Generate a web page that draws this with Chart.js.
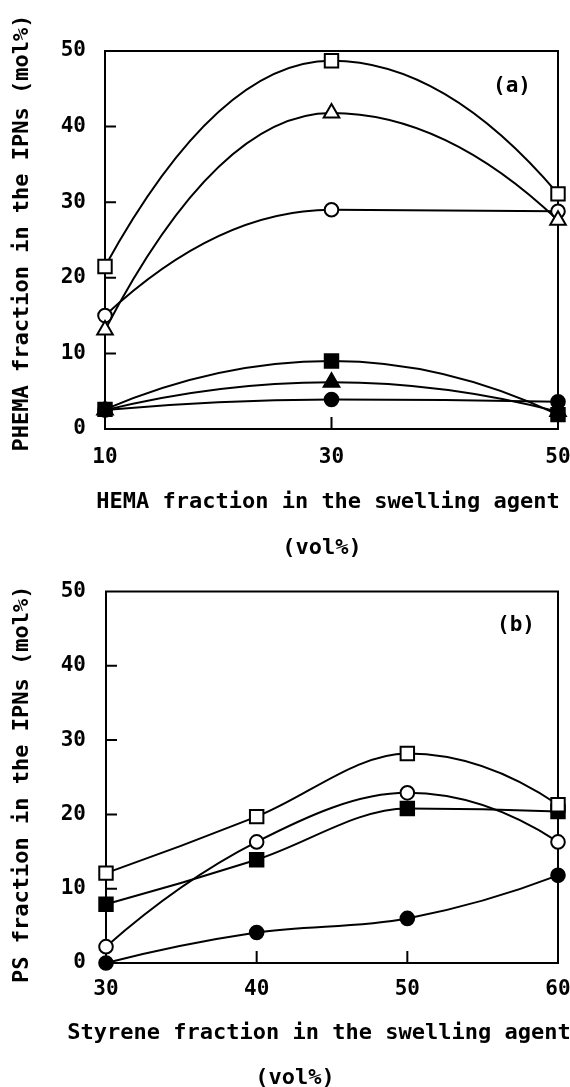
<!DOCTYPE html>
<html>
<head>
<meta charset="utf-8">
<script src="https://cdn.jsdelivr.net/npm/chart.js@4"></script>
<style>
  html, body { margin: 0; padding: 0; background: #fff; overflow: hidden; }
  canvas { display: block; position: absolute; left: 0; }
  #chartA { top: 0; }
  #chartB { top: 580px; }
</style>
</head>
<body>
<canvas id="chartA" width="570" height="580"></canvas>
<canvas id="chartB" width="570" height="507"></canvas>
<script>
// panel (a): PHEMA in the IPNs vs HEMA in the swelling agent
var hemaFrac = [10, 30, 50];
var aOpenSquare = [21.5, 48.7, 31.1];
var aOpenTriangle = [13.1, 41.8, 27.6];
var aOpenCircle = [15.0, 29.0, 28.8];
var aFilledSquare = [2.6, 9.0, 1.9];
var aFilledTriangle = [2.5, 6.2, 2.3];
var aFilledCircle = [2.5, 3.9, 3.6];

// panel (b): PS in the IPNs vs styrene in the swelling agent
var styreneFrac = [30, 40, 50, 60];
var bOpenSquare = [12.1, 19.7, 28.2, 21.3];
var bOpenCircle = [2.2, 16.3, 22.9, 16.3];
var bFilledSquare = [7.9, 13.9, 20.8, 20.4];
var bFilledCircle = [0, 4.1, 6.0, 11.8];

var yTicks = [0, 10, 20, 30, 40, 50];
var aTitleX = ["HEMA fraction in the swelling agent", "(vol%)"];
var aTitleY = "PHEMA fraction in the IPNs (mol%)";
var bTitleX = ["Styrene fraction in the swelling agent", "(vol%)"];
var bTitleY = "PS fraction in the IPNs (mol%)";

var FONT = '"DejaVu Sans Mono", monospace';

function series(xs, ys, shape, filled) {
  var r = shape === 'rect' ? 9.5 : (shape === 'triangle' ? 9 : 6.8);
  return {
    data: xs.map(function (x, i) { return {x: x, y: ys[i]}; }),
    borderColor: '#000',
    borderWidth: 2,
    cubicInterpolationMode: 'monotone',
    fill: false,
    clip: false,
    pointStyle: shape,
    pointRadius: r,
    pointBorderWidth: 2,
    pointBorderColor: '#000',
    pointBackgroundColor: filled ? '#000' : '#fff'
  };
}

// curved ends like a hand-drawn french curve: end slope = 2*chord - inner slope
function bendEnds(chart) {
  chart.getSortedVisibleDatasetMetas().forEach(function (meta) {
    var pts = meta.data, n = pts.length;
    if (n < 3) return;
    meta.dataset.updateControlPoints(chart.chartArea, 'x');
    var p0 = pts[0], p1 = pts[1];
    var h = p1.x - p0.x;
    var m1 = (p1.y - p1.cp1y) / (p1.x - p1.cp1x);
    var m0 = 2 * (p1.y - p0.y) / h - m1;
    p0.cp2x = p0.x + h / 3;
    p0.cp2y = p0.y + m0 * h / 3;
    var q0 = pts[n - 2], q1 = pts[n - 1];
    h = q1.x - q0.x;
    var k0 = (q0.cp2y - q0.y) / (q0.cp2x - q0.x);
    var k1 = 2 * (q1.y - q0.y) / h - k0;
    q1.cp1x = q1.x - h / 3;
    q1.cp1y = q1.y - k1 * h / 3;
  });
}

// box, inward ticks, axis titles and panel tag
var frame = {
  id: 'frame',
  beforeDatasetsDraw: function (chart, args, o) {
    bendEnds(chart);
    var ctx = chart.ctx, a = chart.chartArea;
    var xs = chart.scales.x, ys = chart.scales.y;
    ctx.save();
    ctx.strokeStyle = '#000';
    ctx.lineWidth = 2;
    ctx.strokeRect(a.left, a.top, a.right - a.left, a.bottom - a.top);
    ctx.beginPath();
    ys.ticks.slice(1, -1).forEach(function (t) {
      var py = ys.getPixelForValue(t.value);
      ctx.moveTo(a.left, py); ctx.lineTo(a.left + 11, py);
    });
    xs.ticks.slice(1, -1).forEach(function (t) {
      var px = xs.getPixelForValue(t.value);
      ctx.moveTo(px, a.bottom); ctx.lineTo(px, a.bottom - 12);
    });
    ctx.stroke();
    ctx.restore();
  },
  afterDraw: function (chart, args, o) {
    var ctx = chart.ctx, a = chart.chartArea;
    ctx.save();
    ctx.fillStyle = '#000';
    ctx.textAlign = 'center';
    ctx.textBaseline = 'middle';
    ctx.font = 'bold 22px ' + FONT;
    o.xTitle.forEach(function (line, i) {
      ctx.fillText(line, a.left + o.xPos[i][0], a.bottom + o.xPos[i][1]);
    });
    ctx.save();
    ctx.translate(22, (a.top + a.bottom) / 2 + o.yShift);
    ctx.rotate(-Math.PI / 2);
    ctx.fillText(o.yTitle, 0, 0);
    ctx.restore();
    ctx.font = 'bold 21px ' + FONT;
    ctx.fillText(o.tag, a.right + o.tagPos[0], a.top + o.tagPos[1]);
    ctx.restore();
  }
};

function makeOptions(xMin, xMax, step, padTop, yWidth, xHeight, xPad, yPad, frameOpts) {
  return {
    responsive: false,
    animation: false,
    layout: {padding: {top: padTop, right: 12, left: 0, bottom: 0}},
    plugins: {legend: {display: false}, tooltip: {enabled: false}, frame: frameOpts},
    scales: {
      x: {
        type: 'linear', min: xMin, max: xMax,
        grid: {display: false, drawTicks: false}, border: {display: false},
        ticks: {stepSize: step, padding: xPad, color: '#000', font: {family: FONT, size: 21, weight: 'bold'}},
        afterFit: function (s) { s.height = xHeight; s.paddingLeft = 0; s.paddingRight = 0; }
      },
      y: {
        min: yTicks[0], max: yTicks[yTicks.length - 1],
        grid: {display: false, drawTicks: false}, border: {display: false},
        ticks: {stepSize: yTicks[1] - yTicks[0], padding: yPad, color: '#000', font: {family: FONT, size: 21, weight: 'bold'}},
        afterFit: function (s) { s.width = yWidth; s.paddingTop = 0; s.paddingBottom = 0; }
      }
    }
  };
}

var chartA = new Chart(document.getElementById('chartA'), {
  type: 'line',
  data: {
    datasets: [
      series(hemaFrac, aOpenSquare, 'rect', false),
      series(hemaFrac, aOpenTriangle, 'triangle', false),
      series(hemaFrac, aOpenCircle, 'circle', false),
      series(hemaFrac, aFilledSquare, 'rect', true),
      series(hemaFrac, aFilledTriangle, 'triangle', true),
      series(hemaFrac, aFilledCircle, 'circle', true)
    ]
  },
  options: makeOptions(10, 50, 20, 51, 105, 151, 16, 19, {
    xTitle: aTitleX, xPos: [[223, 73], [217, 119]],
    yTitle: aTitleY, yShift: -7,
    tag: '(a)', tagPos: [-46, 36]
  }),
  plugins: [frame]
});

var chartB = new Chart(document.getElementById('chartB'), {
  type: 'line',
  data: {
    datasets: [
      series(styreneFrac, bOpenSquare, 'rect', false),
      series(styreneFrac, bOpenCircle, 'circle', false),
      series(styreneFrac, bFilledSquare, 'rect', true),
      series(styreneFrac, bFilledCircle, 'circle', true)
    ]
  },
  options: makeOptions(30, 60, 10, 6, 106, 124, 14, 20, {
    xTitle: bTitleX, xPos: [[213, 70], [189, 115]],
    yTitle: bTitleY, yShift: 7,
    tag: '(b)', tagPos: [-42, 34]
  }),
  plugins: [frame]
});
</script>
</body>
</html>
